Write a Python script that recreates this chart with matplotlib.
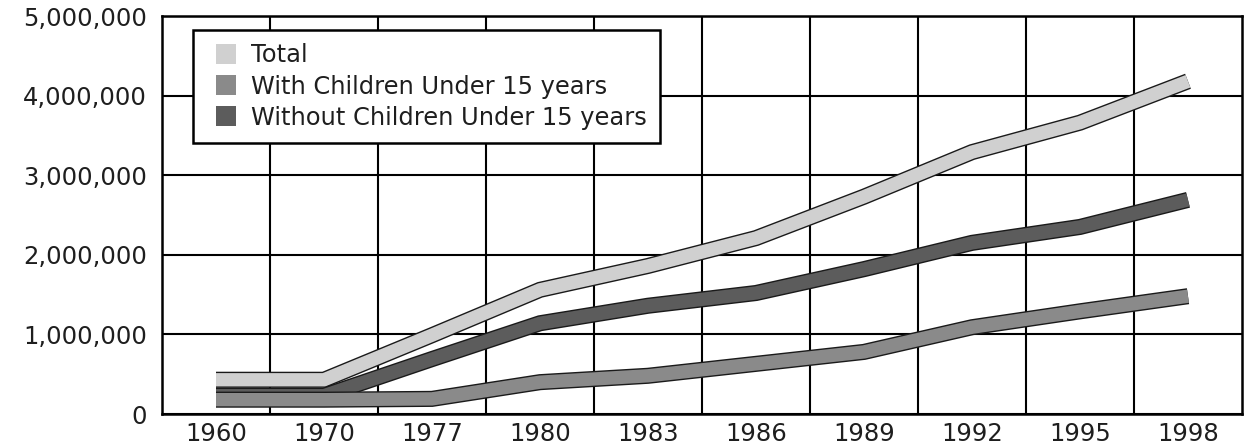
import numpy as np
import matplotlib
matplotlib.use("Agg")
from matplotlib import pyplot as plt
from matplotlib import patheffects as pe
from matplotlib.lines import Line2D
from matplotlib.ticker import StrMethodFormatter

# data
years = ['1960', '1970', '1977', '1980', '1983', '1986', '1989', '1992', '1995', '1998']
total = [430000, 430000, 990000, 1560000, 1860000, 2210000, 2730000, 3290000, 3660000, 4180000]
without_children = [230000, 230000, 690000, 1140000, 1360000, 1520000, 1820000, 2150000, 2350000, 2690000]
with_children = [180000, 180000, 190000, 400000, 480000, 630000, 780000, 1090000, 1290000, 1480000]
y_ticks = [0, 1000000, 2000000, 3000000, 4000000, 5000000]
labels = ['Total', 'With Children Under 15 years', 'Without Children Under 15 years']

c_total = '#d0d0d0'
c_with = '#8a8a8a'
c_without = '#5c5c5c'

plt.rcParams['font.family'] = 'DejaVu Sans'

fig = plt.figure(figsize=(12.44, 4.48), dpi=100)
ax = fig.add_axes([162/1244, 1-414/448, 1080/1244, 398/448])

x = np.arange(len(years))

#thick bands with a thin black outline
def band(vals, color, z):
    ln, = ax.plot(x, vals, color=color, lw=9.6, zorder=z,
                  solid_capstyle='butt', solid_joinstyle='miter')
    ln.set_path_effects([pe.Stroke(linewidth=11.6, foreground='#1a1a1a', capstyle='butt'), pe.Normal()])

band(total, c_total, 3)
band(without_children, c_without, 4)
band(with_children, c_with, 5)

ax.set_xlim(-0.5, len(years) - 0.5)
ax.set_ylim(0, 5000000)
ax.set_xticks(x)
ax.set_xticklabels(years)
ax.set_xticks(np.arange(0.5, len(years) - 1), minor=True)
ax.set_yticks(y_ticks)
ax.yaxis.set_major_formatter(StrMethodFormatter('{x:,.0f}'))

ax.grid(axis='y', which='major', color='black', lw=1.5, zorder=1)
ax.grid(axis='x', which='minor', color='black', lw=1.5, zorder=1)
ax.set_axisbelow(True)
ax.tick_params(which='both', length=0)
ax.tick_params(axis='x', labelsize=17.5, pad=6, colors='#1e1e1e')
ax.tick_params(axis='y', labelsize=17.5, pad=11, colors='#1e1e1e')
for s in ax.spines.values():
    s.set_color('black')
    s.set_linewidth(1.8)

handles = [Line2D([], [], marker='s', ls='none', markersize=15, color=c, markeredgewidth=0)
           for c in (c_total, c_with, c_without)]
leg = ax.legend(handles, labels,
                loc='upper left', bbox_to_anchor=(193/1244, 1-30/448), bbox_transform=fig.transFigure,
                borderaxespad=0, fontsize=17.4, frameon=True, fancybox=False, framealpha=1,
                edgecolor='black', handlelength=1.6, handletextpad=0.25, labelspacing=0.3,
                borderpad=0.55)
leg.get_frame().set_linewidth(1.8)
leg.set_zorder(10)
for t in leg.get_texts():
    t.set_color('#1e1e1e')

fig.savefig('out.png', dpi=100, facecolor='white')
